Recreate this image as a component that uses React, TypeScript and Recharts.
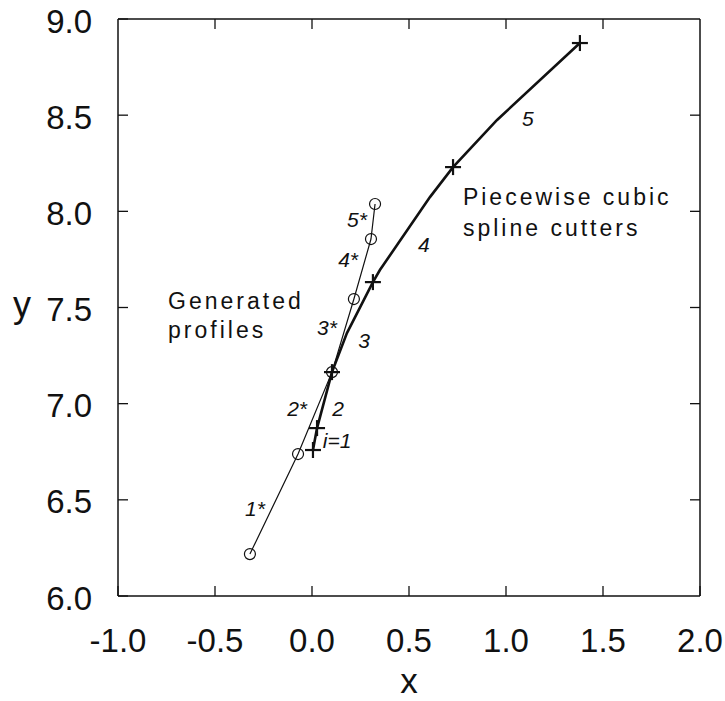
import React from 'react';
import { ScatterChart, Scatter, XAxis, YAxis, ReferenceDot } from 'recharts';

// ---- data ----
const xTicks = [-1, -0.5, 0, 0.5, 1, 1.5, 2];
const yTicks = [6, 6.5, 7, 7.5, 8, 8.5, 9];

// generated profiles (circles, thin line)
const profileX = [-0.32, -0.072, 0.103, 0.216, 0.304, 0.325];
const profileY = [6.218, 6.738, 7.164, 7.544, 7.856, 8.038];

// piecewise cubic spline cutters: knots (+ markers)
const knotX = [0.005, 0.026, 0.103, 0.314, 0.727, 1.381];
const knotY = [6.759, 6.873, 7.164, 7.632, 8.23, 8.875];

// cutter curve (thick line)
const curveX = [0.005, 0.026, 0.103, 0.18, 0.314, 0.35, 0.608, 0.727, 0.954, 1.381];
const curveY = [6.759, 6.873, 7.164, 7.367, 7.632, 7.695, 8.074, 8.23, 8.475, 8.875];

// segment labels (centers)
const segText = ['i=1', '2', '3', '4', '5', '1*', '2*', '3*', '4*', '5*'];
const segX = [0.129, 0.134, 0.268, 0.577, 1.113, -0.294, -0.077, 0.077, 0.186, 0.232];
const segY = [6.811, 6.977, 7.331, 7.825, 8.485, 6.457, 6.977, 7.398, 7.752, 7.96];

// block text (left, baseline)
const blockText = ['Generated', 'profiles', 'Piecewise cubic', 'spline cutters'];
const blockX = [-0.742, -0.742, 0.778, 0.778];
const blockY = [7.492, 7.341, 8.033, 7.872];

const profileData = profileX.map((x, i) => ({ x, y: profileY[i] }));
const knotData = knotX.map((x, i) => ({ x, y: knotY[i] }));
const curveData = curveX.map((x, i) => ({ x, y: curveY[i] }));

const FONT = '"Liberation Sans", Arial, Helvetica, sans-serif';
const INK = '#111';

const BottomTick = (p: any) => (
  <g>
    <line x1={p.x} y1={p.y} x2={p.x} y2={p.y - 10} stroke={INK} strokeWidth={1.3} />
    <text x={p.x} y={p.y + 56} textAnchor="middle" fontSize={33} fontFamily={FONT} fill={INK}>
      {Number(p.payload.value).toFixed(1)}
    </text>
  </g>
);
const TopTick = (p: any) => (
  <line x1={p.x} y1={p.y} x2={p.x} y2={p.y + 10} stroke={INK} strokeWidth={1.3} />
);
const LeftTick = (p: any) => (
  <g>
    <line x1={p.x} y1={p.y} x2={p.x + 10} y2={p.y} stroke={INK} strokeWidth={1.3} />
    <text x={p.x - 26} y={p.y + 13.5} textAnchor="end" fontSize={33} fontFamily={FONT} fill={INK}>
      {Number(p.payload.value).toFixed(1)}
    </text>
  </g>
);
const RightTick = (p: any) => (
  <line x1={p.x} y1={p.y} x2={p.x - 10} y2={p.y} stroke={INK} strokeWidth={1.3} />
);

const PlusShape = (p: any) => (
  <g>
    <line x1={p.cx - 8} y1={p.cy} x2={p.cx + 8} y2={p.cy} stroke={INK} strokeWidth={2.2} />
    <line x1={p.cx} y1={p.cy - 8} x2={p.cx} y2={p.cy + 8} stroke={INK} strokeWidth={2.2} />
  </g>
);
const CircleShape = (p: any) => (
  <circle cx={p.cx} cy={p.cy} r={5.5} fill="none" stroke={INK} strokeWidth={1.2} />
);
const NoShape = () => <g />;

const SegLabel = (p: any) => {
  const vb = p.viewBox || {};
  const cx = vb.x + (vb.width || 0) / 2;
  const cy = vb.y + (vb.height || 0) / 2;
  return (
    <text x={cx} y={cy + 7.5} textAnchor="middle" fontSize={21} fontStyle="italic"
      fontFamily={FONT} fill={INK}>{p.text}</text>
  );
};
const BlockLabel = (p: any) => {
  const vb = p.viewBox || {};
  const cx = vb.x + (vb.width || 0) / 2;
  const cy = vb.y + (vb.height || 0) / 2;
  return (
    <text x={cx} y={cy} textAnchor="start" fontSize={23} letterSpacing={3}
      fontFamily={FONT} fill={INK}>{p.text}</text>
  );
};

export default function App() {
  return (
    <div style={{ position: 'absolute', left: 0, top: 0, background: '#fff' }}>
      <ScatterChart width={725} height={701} margin={{ top: 0, right: 0, bottom: 0, left: 0 }}>
        <XAxis xAxisId="b" type="number" dataKey="x" orientation="bottom" domain={[-1, 2]}
          ticks={xTicks} interval={0} height={105} tickSize={0} tickMargin={0}
          tick={<BottomTick />} tickLine={false} axisLine={{ stroke: INK, strokeWidth: 1.5 }}
          allowDataOverflow />
        <XAxis xAxisId="t" type="number" dataKey="x" orientation="top" domain={[-1, 2]}
          ticks={xTicks.slice(1, -1)} interval={0} height={19} tickSize={0} tickMargin={0}
          tick={<TopTick />} tickLine={false} axisLine={{ stroke: INK, strokeWidth: 1.5 }}
          allowDataOverflow />
        <YAxis yAxisId="l" type="number" dataKey="y" orientation="left" domain={[6, 9]}
          ticks={yTicks} interval={0} width={118} tickSize={0} tickMargin={0}
          tick={<LeftTick />} tickLine={false} axisLine={{ stroke: INK, strokeWidth: 1.5 }}
          allowDataOverflow />
        <YAxis yAxisId="r" type="number" dataKey="y" orientation="right" domain={[6, 9]}
          ticks={yTicks.slice(1, -1)} interval={0} width={25} tickSize={0} tickMargin={0}
          tick={<RightTick />} tickLine={false} axisLine={{ stroke: INK, strokeWidth: 1.5 }}
          allowDataOverflow />

        <Scatter xAxisId="t" yAxisId="r" data={profileData} shape={NoShape} isAnimationActive={false} />

        <Scatter xAxisId="b" yAxisId="l" data={curveData} shape={NoShape}
          line={{ stroke: INK, strokeWidth: 2.6 }} lineType="joint" isAnimationActive={false} />
        <Scatter xAxisId="b" yAxisId="l" data={profileData} shape={CircleShape}
          line={{ stroke: INK, strokeWidth: 1.2 }} lineType="joint" isAnimationActive={false} />
        <Scatter xAxisId="b" yAxisId="l" data={knotData} shape={PlusShape} isAnimationActive={false} />

        {segText.map((t, i) => (
          <ReferenceDot key={'s' + i} xAxisId="b" yAxisId="l" x={segX[i]} y={segY[i]} r={0}
            fill="none" stroke="none" label={<SegLabel text={t} />} />
        ))}
        {blockText.map((t, i) => (
          <ReferenceDot key={'b' + i} xAxisId="b" yAxisId="l" x={blockX[i]} y={blockY[i]} r={0}
            fill="none" stroke="none" label={<BlockLabel text={t} />} />
        ))}

        <text x={22} y={317} textAnchor="middle" fontSize={36} fontFamily={FONT} fill={INK}>y</text>
        <text x={409} y={693} textAnchor="middle" fontSize={35} fontFamily={FONT} fill={INK}>x</text>
      </ScatterChart>
    </div>
  );
}
